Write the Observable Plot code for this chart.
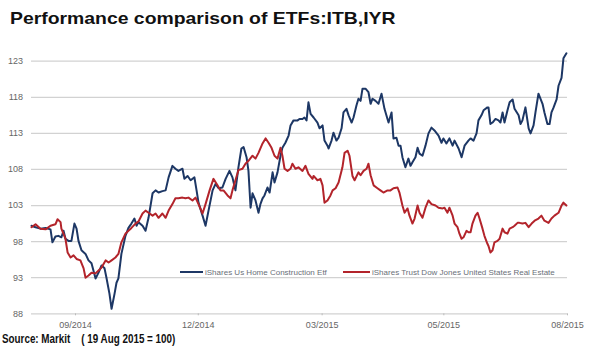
<!DOCTYPE html>
<html>
<head>
<meta charset="utf-8">
<script src="https://cdn.jsdelivr.net/npm/d3@7"></script>
<script src="https://cdn.jsdelivr.net/npm/@observablehq/plot@0.6"></script>
<style>
  html, body { margin: 0; padding: 0; background: #fff; }
  body { width: 590px; height: 356px; position: relative; overflow: hidden; font-family: "Liberation Sans", Arial, sans-serif; }
  #title { position: absolute; left: 10px; top: 9px; font-weight: bold; font-size: 17px; color: #111; white-space: nowrap; transform: scaleX(1.14); transform-origin: 0 0; }
  #chart { position: absolute; left: 0; top: 40px; }
  #source { position: absolute; left: 2px; top: 332px; font-weight: bold; font-size: 12px; color: #111; white-space: nowrap; transform: scaleX(0.82); transform-origin: 0 0; }
  .leg { position: absolute; top: 266px; height: 12px; display: flex; align-items: center; font-size: 8px; color: #6a6f78; white-space: nowrap; }
  .sw { display: inline-block; height: 2px; margin-right: 2px; }
</style>
</head>
<body>
<div id="title">Performance comparison of ETFs:ITB,IYR</div>
<div id="chart"></div>
<div id="legend"></div>
<div id="source">Source: Markit &nbsp;&nbsp;&nbsp;( 19 Aug 2015 = 100)</div>
<script>
// trading-day index (0 = 19 Aug 2014, 251 = 19 Aug 2015), indexed value
const seriesNames = ["iShares Us Home Construction Etf", "iShares Trust Dow Jones United States Real Estate"];
const seriesColors = ["#1d3765", "#b3242b"];

const itb = [
[0,100.2],[1.9,100.0],[4.2,99.8],[6.6,99.9],[8.9,99.7],[9.8,97.9],[11.2,98.7],[12.6,98.8],[14.0,98.6],[15.0,99.5],[15.9,98.4],[17.3,98.1],[18.7,98.1],[20.1,100.5],[21.1,99.8],[22.0,98.1],[23.4,96.8],[25.3,96.3],[26.7,95.4],[28.1,95.0],[30.0,92.9],[31.4,93.7],[32.8,94.7],[34.2,94.3],[35.1,93.0],[36.5,90.8],[37.5,88.7],[38.9,90.8],[39.8,92.3],[40.7,92.9],[42.1,96.3],[44.0,98.8],[45.4,99.9],[46.8,100.5],[48.2,101.2],[49.2,100.2],[50.1,100.7],[52.0,100.2],[53.4,99.5],[54.8,101.3],[56.7,104.7],[58.1,105.1],[59.5,104.8],[61.3,105.0],[62.8,105.1],[64.2,106.9],[66.0,108.5],[67.4,108.1],[68.8,107.8],[70.7,108.1],[71.6,106.7],[73.1,107.1],[74.5,106.5],[76.3,106.9],[77.3,105.1],[78.2,103.4],[80.1,101.6],[81.5,100.2],[82.9,102.3],[84.8,105.1],[86.2,106.0],[87.6,105.4],[89.4,105.5],[90.9,106.7],[92.7,107.8],[94.1,106.9],[95.5,105.1],[96.9,108.3],[98.3,110.9],[99.3,111.1],[100.7,109.7],[101.6,107.8],[102.6,102.7],[103.5,104.7],[104.9,103.7],[106.3,102.0],[107.2,103.2],[108.2,104.0],[109.1,104.4],[110.5,105.5],[111.5,104.8],[112.9,107.6],[113.8,106.2],[115.2,107.6],[116.6,109.9],[117.5,111.0],[118.9,111.7],[120.4,112.7],[121.3,114.1],[122.7,114.8],[124.6,114.8],[125.5,115.0],[126.9,115.0],[127.8,115.2],[128.8,114.8],[129.7,117.3],[130.7,115.7],[132.1,115.2],[133.9,114.5],[134.9,113.7],[136.3,114.1],[137.2,112.0],[138.6,111.3],[139.1,110.9],[140.5,112.0],[141.4,113.1],[142.8,112.0],[143.8,112.4],[145.2,113.7],[146.1,115.9],[147.5,116.4],[148.5,115.5],[149.9,114.5],[150.8,115.2],[152.2,116.9],[153.1,117.8],[154.1,117.5],[155.0,119.2],[156.4,119.2],[157.8,118.7],[158.8,117.1],[159.7,117.8],[161.1,117.5],[162.5,117.1],[163.9,118.5],[165.3,116.4],[166.7,115.0],[167.2,114.5],[168.6,115.9],[169.5,112.3],[170.9,112.4],[171.9,111.3],[172.8,111.3],[173.7,109.7],[175.1,108.3],[176.5,109.5],[177.5,108.5],[178.4,109.0],[179.8,109.7],[180.8,111.0],[181.7,110.2],[183.1,109.9],[184.5,111.3],[185.9,113.0],[187.3,113.8],[188.7,113.4],[190.6,112.7],[192.0,111.7],[192.9,112.3],[194.3,111.6],[195.7,112.3],[197.2,111.3],[198.1,112.0],[200.0,110.9],[201.4,109.7],[202.8,111.3],[204.6,112.0],[205.6,112.3],[207.0,112.0],[208.4,113.0],[209.3,114.8],[210.7,115.5],[211.7,116.2],[213.5,116.6],[214.0,116.6],[214.9,114.3],[215.9,114.5],[217.3,115.0],[218.7,114.8],[219.6,114.5],[220.6,115.9],[221.5,114.5],[222.9,116.2],[223.9,117.3],[225.3,117.7],[226.2,116.4],[228.1,115.5],[229.0,114.3],[229.9,114.8],[231.3,116.6],[232.8,113.7],[233.7,113.0],[235.1,114.1],[236.0,115.9],[237.4,118.5],[239.3,117.1],[240.2,115.9],[241.6,114.3],[242.6,114.3],[243.5,115.9],[244.5,116.6],[245.9,117.7],[246.8,119.6],[248.2,120.7],[249.1,123.4],[250.5,124.1]
];

const iyr = [
[0,100.0],[1.9,100.4],[4.2,99.8],[6.6,99.7],[8.9,100.2],[11.2,100.4],[12.2,101.1],[13.6,100.7],[14.0,99.8],[15.9,98.4],[16.9,96.5],[18.3,95.8],[19.7,96.1],[21.1,95.6],[22.9,95.4],[24.4,94.3],[25.3,93.0],[26.7,93.3],[28.1,93.7],[30.0,93.6],[31.4,94.0],[32.8,94.4],[34.7,95.4],[36.1,95.1],[37.5,95.4],[39.3,95.8],[40.7,96.3],[42.1,97.9],[44.0,99.1],[45.4,99.5],[46.8,99.9],[48.7,100.5],[50.1,100.8],[52.0,101.9],[53.4,102.3],[54.8,102.0],[56.7,101.6],[58.1,101.9],[59.5,101.3],[61.3,101.9],[62.8,101.3],[64.2,102.3],[66.0,103.2],[67.4,104.0],[68.8,104.0],[70.7,104.1],[72.1,104.0],[73.5,104.1],[75.4,103.7],[76.8,104.1],[78.2,103.2],[80.1,101.9],[81.5,103.2],[83.4,105.1],[85.2,106.7],[87.1,105.8],[88.5,105.1],[89.9,105.1],[91.8,104.4],[93.2,104.0],[94.1,105.1],[95.5,106.5],[96.9,107.9],[98.8,108.1],[100.2,108.8],[101.6,109.2],[103.5,109.9],[104.9,109.5],[106.3,110.3],[108.2,111.6],[109.6,112.3],[111.0,111.7],[112.4,111.0],[113.8,109.9],[115.2,109.5],[116.6,111.0],[117.5,109.9],[118.5,108.1],[119.9,107.8],[121.3,108.1],[122.2,108.8],[123.6,108.1],[125.0,108.3],[126.9,107.8],[128.3,108.5],[129.7,107.4],[131.6,106.7],[132.1,107.1],[133.9,106.5],[135.3,106.7],[136.3,105.8],[137.2,103.4],[138.6,103.7],[140.0,104.4],[141.0,105.1],[142.4,105.4],[143.8,106.2],[145.6,108.3],[146.6,110.3],[148.0,110.6],[148.9,109.9],[150.3,107.1],[151.3,106.5],[153.1,107.6],[154.1,107.2],[155.5,107.8],[156.9,108.1],[157.8,108.8],[158.8,107.2],[160.2,105.8],[162.0,105.4],[163.4,105.1],[164.8,104.8],[166.7,105.1],[168.1,105.1],[169.5,105.4],[171.4,105.5],[172.3,104.8],[173.7,103.0],[174.7,102.0],[176.1,102.6],[177.0,101.6],[178.4,100.5],[179.4,101.2],[180.8,103.0],[181.7,102.0],[183.1,101.3],[184.5,102.7],[185.9,103.7],[187.3,103.2],[189.2,103.0],[190.6,102.7],[192.5,102.6],[193.4,102.7],[194.8,102.0],[195.7,102.7],[197.2,101.6],[198.1,100.5],[199.5,100.0],[200.4,99.1],[201.4,98.4],[202.3,98.6],[203.7,99.5],[204.6,99.3],[205.6,99.3],[206.5,100.5],[207.9,101.6],[208.9,102.0],[209.8,101.2],[211.2,99.8],[212.1,98.8],[213.5,97.7],[214.0,97.4],[214.9,96.5],[215.9,96.8],[216.8,97.9],[218.2,98.1],[219.2,98.4],[220.6,99.8],[221.5,99.3],[222.9,99.1],[223.9,99.8],[225.3,100.0],[226.2,100.2],[227.6,100.6],[228.5,100.6],[229.9,100.5],[231.3,100.6],[232.8,100.0],[234.2,100.5],[235.6,100.9],[237.4,101.2],[238.8,101.6],[240.2,100.9],[242.1,100.6],[243.5,101.2],[244.9,101.6],[246.8,102.0],[248.2,103.0],[249.1,103.4],[250.5,103.0]
];

const yTicks = [88, 93, 98, 103, 108, 113, 118, 123];
const xTickDays = [20.6, 78.1, 136.1, 193.1, 251];
const xTickLabels = ["09/2014", "12/2014", "03/2015", "05/2015", "08/2015"];

const labelOf = new Map(xTickDays.map((d, i) => [d, xTickLabels[i]]));
const fontFamily = "'Liberation Sans', Arial, sans-serif";

const chart = Plot.plot({
  width: 590,
  height: 290,
  marginTop: 20.7,
  marginBottom: 16.7,
  marginLeft: 31,
  marginRight: 23,
  x: {domain: [0, 251]},
  y: {domain: [88, 123]},
  style: {fontFamily, fontSize: "9px", color: "#666", background: "transparent", overflow: "visible"},
  marks: [
    Plot.gridY(yTicks, {stroke: "#d2d2d2", strokeOpacity: 1, strokeWidth: 1.3}),
    Plot.axisY(yTicks, {tickSize: 0, tickPadding: 8.5, label: null, fill: "#666"}),
    Plot.axisX(xTickDays, {tickSize: 2, tickPadding: 5.5, label: null, stroke: "#bbb", fill: "#666", tickFormat: d => labelOf.get(d)}),
    Plot.line(itb, {x: d => d[0], y: d => d[1], stroke: seriesColors[0], strokeWidth: 2}),
    Plot.line(iyr, {x: d => d[0], y: d => d[1], stroke: seriesColors[1], strokeWidth: 2})
  ]
});
document.getElementById("chart").appendChild(chart);

// legend (inside the plot area, near the bottom)
const legend = document.getElementById("legend");
const legendPos = [[180, 23], [343, 27]];
seriesNames.forEach((name, i) => {
  const item = document.createElement("div");
  item.className = "leg";
  item.style.left = legendPos[i][0] + "px";
  const sw = document.createElement("span");
  sw.className = "sw";
  sw.style.width = legendPos[i][1] + "px";
  sw.style.background = seriesColors[i];
  item.appendChild(sw);
  item.appendChild(document.createTextNode(name));
  legend.appendChild(item);
});
</script>
</body>
</html>
